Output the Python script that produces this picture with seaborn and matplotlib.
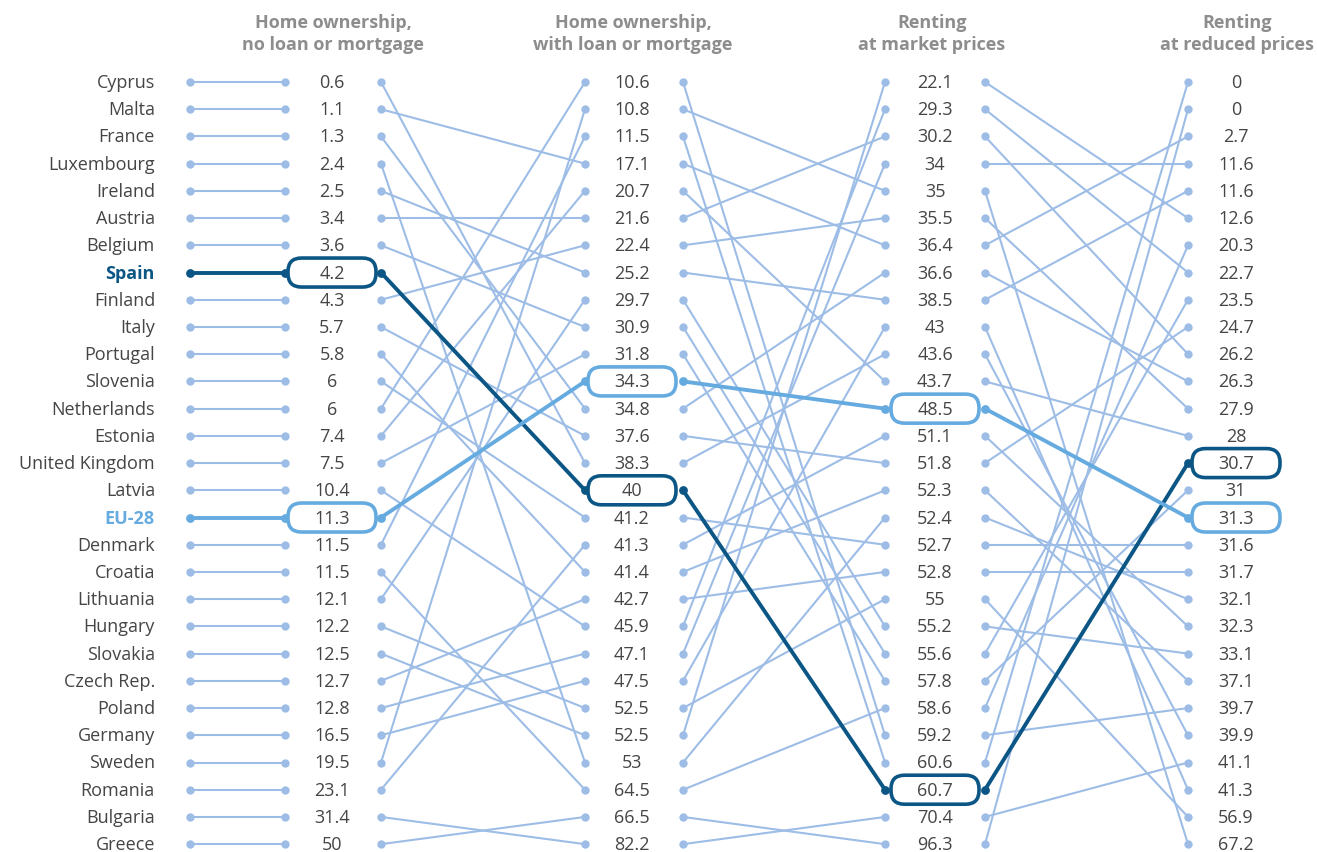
import numpy as np
import pandas as pd
import matplotlib
matplotlib.use("Agg")
import matplotlib.pyplot as plt
import seaborn as sns
from matplotlib.patches import FancyBboxPatch

# ---------------- data ----------------
countries = ["Cyprus", "Malta", "France", "Luxembourg", "Ireland", "Austria", "Belgium",
             "Spain", "Finland", "Italy", "Portugal", "Slovenia", "Netherlands", "Estonia",
             "United Kingdom", "Latvia", "EU-28", "Denmark", "Croatia", "Lithuania",
             "Hungary", "Slovakia", "Czech Rep.", "Poland", "Germany", "Sweden",
             "Romania", "Bulgaria", "Greece"]
no_loan = [0.6, 1.1, 1.3, 2.4, 2.5, 3.4, 3.6, 4.2, 4.3, 5.7, 5.8, 6, 6, 7.4, 7.5, 10.4,
           11.3, 11.5, 11.5, 12.1, 12.2, 12.5, 12.7, 12.8, 16.5, 19.5, 23.1, 31.4, 50]
with_loan = [38.3, 17.1, 34.8, 53, 25.2, 21.6, 30.9, 40, 22.4, 37.6, 41.4, 41.2, 10.6, 20.7,
             31.8, 45.9, 34.3, 11.5, 64.5, 29.7, 52.5, 52.5, 42.7, 47.1, 47.5, 10.8, 41.3,
             82.2, 66.5]
market = [43.6, 36.4, 36.6, 52.4, 38.5, 30.2, 55.6, 60.7, 35.5, 51.8, 52.3, 52.7, 59.2, 43.7,
          57.8, 29.3, 48.5, 60.6, 58.6, 55.2, 55, 22.1, 52.8, 34, 43, 35, 51.1, 70.4, 96.3]
reduced = [39.9, 2.7, 26.3, 32.1, 11.6, 26.2, 23.5, 30.7, 27.9, 24.7, 37.1, 31.6, 39.7, 28,
           31, 22.7, 31.3, 0, 20.3, 33.1, 56.9, 12.6, 31.7, 11.6, 41.3, 67.2, 32.3, 41.1, 0]
headers = ["Home ownership,\nno loan or mortgage", "Home ownership,\nwith loan or mortgage",
           "Renting\nat market prices", "Renting\nat reduced prices"]
highlight = {"Spain": "#0b5685", "EU-28": "#66abe0"}

# ---------------- layout ----------------
W, H = 1317, 852
ROW0, DROW = 82.0, 27.22
IN_X = [190, 585, 885, 1188]      # left dot of each column
OUT_X = [285, 683, 985]           # right dot of each column
START_X = 381                     # dot after the first value label
LABEL_X = [332, 632, 935, 1236]
HEAD_X = [333, 633, 932, 1237]
BASE = "#9dbde6"
TXT = "#454545"
HEAD = "#8d8d8d"
FONT = ["Open Sans", "DejaVu Sans"]

sns.set_theme(style="white")
plt.rcParams["font.family"] = FONT

series = [no_loan, with_loan, market, reduced]
n = len(countries)
ranks = []
prev = np.arange(n)
for vals in series:
    order = np.lexsort((prev, np.array(vals)))
    r = np.empty(n, dtype=int)
    r[order] = np.arange(n)
    ranks.append(r)
    prev = r

def ypos(r):
    return ROW0 + DROW * r

# segments
seg_rows = []
dot_rows = []
for i, c in enumerate(countries):
    r = [ranks[k][i] for k in range(4)]
    segs = [((IN_X[0], r[0]), (OUT_X[0], r[0])),
            ((START_X, r[0]), (IN_X[1], r[1])),
            ((OUT_X[1], r[1]), (IN_X[2], r[2])),
            ((OUT_X[2], r[2]), (IN_X[3], r[3]))]
    for s, (a, b) in enumerate(segs):
        uid = f"{c}-{s}"
        seg_rows.append(dict(country=c, seg=uid, x=a[0], y=ypos(a[1])))
        seg_rows.append(dict(country=c, seg=uid, x=b[0], y=ypos(b[1])))
        dot_rows.append(dict(country=c, x=a[0], y=ypos(a[1])))
        dot_rows.append(dict(country=c, x=b[0], y=ypos(b[1])))
seg_df = pd.DataFrame(seg_rows)
dot_df = pd.DataFrame(dot_rows).drop_duplicates()

fig = plt.figure(figsize=(W / 100, H / 100), dpi=100)
ax = fig.add_axes([0, 0, 1, 1])
ax.set_xlim(0, W)
ax.set_ylim(H, 0)
ax.axis("off")

base_seg = seg_df[~seg_df.country.isin(highlight)]
sns.lineplot(data=base_seg, x="x", y="y", units="seg", estimator=None, sort=False,
             color=BASE, lw=1.5, ax=ax, legend=False)
base_dot = dot_df[~dot_df.country.isin(highlight)]
sns.scatterplot(data=base_dot, x="x", y="y", color=BASE, s=36, linewidth=0, ax=ax,
                legend=False, zorder=3)

for c, col in highlight.items():
    hs = seg_df[seg_df.country == c]
    sns.lineplot(data=hs, x="x", y="y", units="seg", estimator=None, sort=False,
                 color=col, lw=2.8, ax=ax, legend=False, zorder=5)
    hd = dot_df[dot_df.country == c]
    sns.scatterplot(data=hd, x="x", y="y", color=col, s=40, linewidth=0, ax=ax,
                    legend=False, zorder=6)

# country labels
for i, c in enumerate(countries):
    y = ypos(ranks[0][i]) + 1
    if c in highlight:
        ax.text(155, y, c, ha="right", va="center", fontsize=13, color=highlight[c],
                fontweight="bold")
    else:
        ax.text(155, y, c, ha="right", va="center", fontsize=13, color=TXT)

# value labels and highlight boxes
for k, vals in enumerate(series):
    for i, c in enumerate(countries):
        y = ypos(ranks[k][i])
        ax.text(LABEL_X[k], y + 1, f"{vals[i]:g}", ha="center", va="center",
                fontsize=13, color=TXT, zorder=8)
        if c in highlight:
            bw, bh = 88, 29
            box = FancyBboxPatch((LABEL_X[k] - bw / 2, y - bh / 2), bw, bh,
                                 boxstyle="round,pad=0,rounding_size=13.5",
                                 fc="white", ec=highlight[c], lw=2.6, zorder=7)
            ax.add_patch(box)

# headers
for k, h in enumerate(headers):
    ax.text(HEAD_X[k], 34, h, ha="center", va="center", fontsize=13, color=HEAD,
            fontweight="bold", linespacing=1.35)

fig.savefig("out.png", dpi=100)
